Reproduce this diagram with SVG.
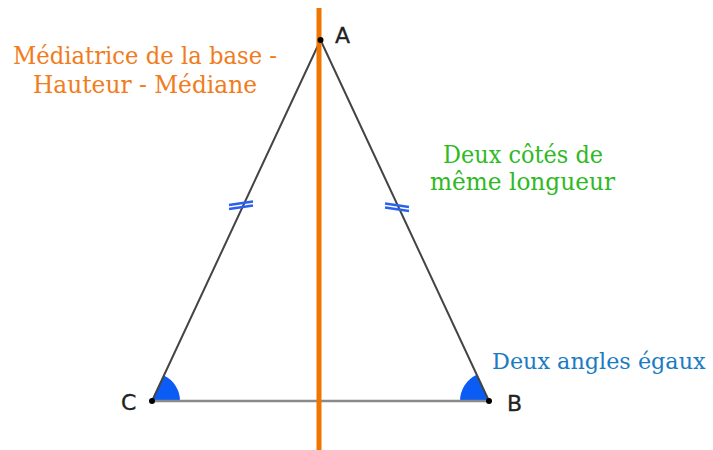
<svg xmlns="http://www.w3.org/2000/svg" width="713" height="450" viewBox="0 0 713 450">
<style>
.side{stroke:#444;stroke-width:2;fill:none;stroke-linecap:round}
.base{stroke:#8a8a8a;stroke-width:2.6;fill:none}
.tick{stroke:#2a62f0;stroke-width:2.4;fill:none}
.ang{fill:#0a5cf5;stroke:none}
.dot{fill:#000}
.lbl{font-family:"DejaVu Sans","Liberation Sans",sans-serif;font-size:22px;fill:#222;stroke:#222;stroke-width:0.3}
.cap{font-family:"DejaVu Serif","Liberation Serif",serif;font-size:24px}
</style>
<rect width="713" height="450" fill="#fff"/>
<g id="connectors">
<path class="ang" d="M152,401 L180,401 A28,28 0 0 0 163.9,375.6 Z"/>
<path class="ang" d="M489,401 L460,401 A29,29 0 0 1 476.7,374.7 Z"/>
<line class="side" x1="152" y1="401" x2="320.5" y2="40"/>
<line class="side" x1="489" y1="401" x2="320.5" y2="40"/>
<line class="base" x1="152" y1="401" x2="489" y2="401"/>
<g id="ticks-left">
<line class="tick" x1="229" y1="205" x2="253" y2="201.5"/>
<line class="tick" x1="229" y1="209" x2="253" y2="205.5"/>
</g>
<g id="ticks-right">
<line class="tick" x1="385" y1="203.5" x2="409" y2="207"/>
<line class="tick" x1="385" y1="207.5" x2="409" y2="211"/>
</g>
<line id="mediatrice" x1="319" y1="8" x2="319" y2="450" stroke="#f07400" stroke-width="5"/>
</g>
<g id="A"><circle class="dot" cx="320.5" cy="40" r="3"/><text class="lbl" x="335" y="43">A</text></g>
<g id="B"><circle class="dot" cx="489" cy="401" r="3"/><text class="lbl" x="507" y="411">B</text></g>
<g id="C"><circle class="dot" cx="152" cy="401" r="3"/><text class="lbl" x="121" y="410">C</text></g>
<g id="label-mediatrice" class="cap" fill="#f07c1c">
<text x="13" y="64" textLength="264" lengthAdjust="spacingAndGlyphs">Médiatrice de la base -</text>
<text x="33" y="93" textLength="224" lengthAdjust="spacingAndGlyphs">Hauteur - Médiane</text>
</g>
<g id="label-cotes" class="cap" fill="#2fb925">
<text x="443" y="163" textLength="160" lengthAdjust="spacingAndGlyphs">Deux côtés de</text>
<text x="430" y="190" textLength="185" lengthAdjust="spacingAndGlyphs">même longueur</text>
</g>
<g id="label-angles" class="cap" fill="#1b7cc3">
<text x="492" y="369" style="font-size:22.3px">Deux angles égaux</text>
</g>
</svg>
